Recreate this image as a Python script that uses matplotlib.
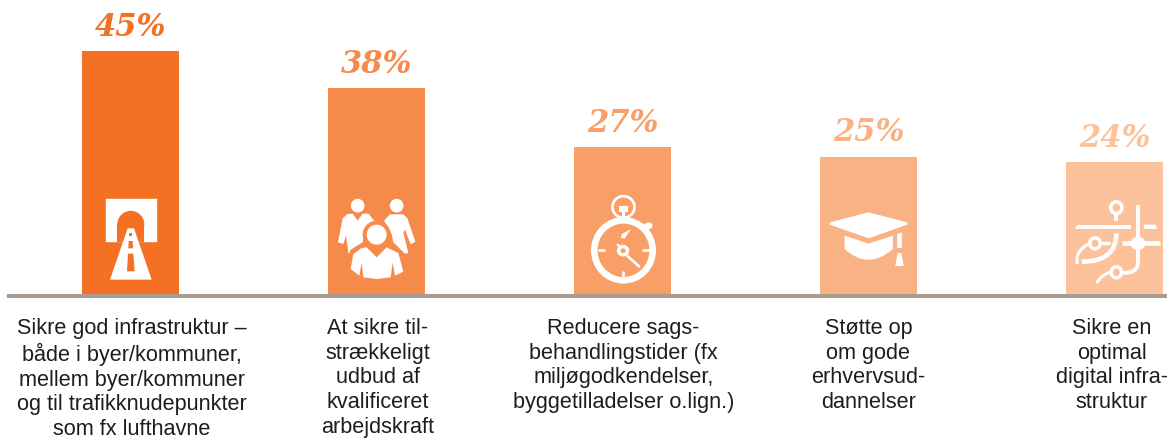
import matplotlib
matplotlib.use("Agg")
import matplotlib.pyplot as plt
from matplotlib.patches import Polygon, Ellipse, Rectangle, PathPatch
from matplotlib.path import Path
from matplotlib.transforms import Affine2D

# Values
bar_heights = [45, 38.2, 27.3, 25.6, 24.6]
percent_labels = ["45%", "38%", "27%", "25%", "24%"]
categories = [
    "Sikre god infrastruktur –\nbåde i byer/kommuner,\nmellem byer/kommuner\nog til trafikknudepunkter\nsom fx lufthavne",
    "At sikre til-\nstrækkeligt\nudbud af\nkvalificeret\narbejdskraft",
    "Reducere sags-\nbehandlingstider (fx\nmiljøgodkendelser,\nbyggetilladelser o.lign.)",
    "Støtte op\nom gode\nerhvervsud-\ndannelser",
    "Sikre en\noptimal\ndigital infra-\nstruktur",
]
bar_colors = ["#f47023", "#f68a4b", "#f89e67", "#f9b283", "#fcc29c"]

W, H = 1167, 439
fig = plt.figure(figsize=(W / 100, H / 100), dpi=100)

# main axes, baseline sits at pixel 297 from the top
base_px = 297
unit_px = 5.44
ax = fig.add_axes([0, (H - base_px) / H, 1, base_px / H])
ax.set_xlim(-130.5 / 246, (W - 130.5) / 246)
ax.set_ylim(0, base_px / unit_px)
xs = range(len(bar_heights))
ax.bar(xs, bar_heights, width=97 / 246, color=bar_colors)
for i in xs:
    ax.annotate(percent_labels[i], (i, bar_heights[i]), xytext=(0, 9.5), textcoords="offset pixels",
                ha="center", va="bottom", color=bar_colors[i], fontsize=22,
                family="DejaVu Serif", weight="bold", style="italic")
ax.set_xticks(list(xs))
ax.set_xticklabels(categories, fontsize=15.6, family="Liberation Sans", color="#1d1d1b",
                   linespacing=1.23, va="top")
ax.tick_params(axis="x", length=0, pad=15)
ax.set_yticks([])
for name in ["top", "left", "right"]:
    ax.spines[name].set_visible(False)
ax.spines["bottom"].set_color("#a99b8f")
ax.spines["bottom"].set_linewidth(2.9)
ax.spines["bottom"].set_capstyle("butt")
ax.spines["bottom"].set_bounds((7 - 130.5) / 246, (W - 130.5) / 246)
# the labels do not sit exactly under their bars
shifts = [1.5, 1, 1, 0, -3]
for lab, dx in zip(ax.get_xticklabels(), shifts):
    lab.set_transform(lab.get_transform() + Affine2D().translate(dx, 0))

# overlay in pixel coordinates for the white icons
ic = fig.add_axes([0, 0, 1, 1])
ic.set_xlim(0, W)
ic.set_ylim(H, 0)
ic.axis("off")
ic.patch.set_alpha(0)


def icon(ox, oy, sx, sy):
    return Affine2D().scale(1 / sx, 1 / sy).translate(ox, oy) + ic.transData


def poly(tr, pts, color="white", ec="none", lw=0):
    ic.add_patch(Polygon(pts, closed=True, fc=color, ec=ec, lw=lw, transform=tr))


def ring(tr, x, y, w, h, thick, s, color="white"):
    ic.add_patch(Ellipse((x, y), w - thick, h - thick, fc="none", ec=color,
                         lw=thick / s * 0.72, transform=tr))


def stroke(tr, pts, codes, thick, s, cap="round"):
    ic.add_patch(PathPatch(Path(pts, codes), fc="none", ec="white", lw=thick / s * 0.72,
                           capstyle=cap, transform=tr))


M, L, C = Path.MOVETO, Path.LINETO, Path.CURVE3

# tunnel
t = icon(60, 180, 3, 3)
ic.add_patch(Rectangle((137, 60), 151, 126, fc="white", ec="white", lw=1, joinstyle="round", transform=t))
c0 = bar_colors[0]
ic.add_patch(Ellipse((212.5, 136), 81, 81, fc=c0, transform=t))
ic.add_patch(Rectangle((172, 136), 81, 52, fc=c0, transform=t))
poly(t, [(203, 148), (222, 148), (275, 302), (150, 302)])
ic.add_patch(Rectangle((207, 162), 10, 10, fc=c0, transform=t))
poly(t, [(206, 186), (218, 186), (219, 208), (205, 208)], c0)
poly(t, [(204, 224), (220, 224), (224, 277), (201, 277)], c0)

# people
c1 = bar_colors[1]
front = [(880, 225), (905, 207), (920, 205), (950, 235), (980, 205), (1015, 222), (1030, 278),
         (1005, 290), (998, 250), (992, 295), (950, 300), (910, 295), (905, 250), (898, 290), (872, 270)]
ic.add_patch(Ellipse((893, 80), 41, 41, fc="white", transform=t))
ic.add_patch(Ellipse((1010, 80), 41, 41, fc="white", transform=t))
poly(t, [(862, 105), (878, 104), (893, 125), (908, 104), (925, 104), (945, 128), (915, 150),
         (908, 190), (872, 212), (866, 226), (858, 170), (850, 195), (834, 190), (848, 118)])
poly(t, [(972, 125), (990, 106), (1030, 106), (1042, 118), (1066, 188), (1052, 196), (1035, 152),
         (1030, 160), (1045, 222), (1035, 224), (1000, 190), (995, 165)])
ic.add_patch(Ellipse((950, 167), 84, 84, fc=c1, transform=t))
poly(t, front, c1, ec=c1, lw=3.5)
poly(t, front)
ic.add_patch(Ellipse((950, 167), 60, 60, fc="white", transform=t))

# stopwatch
s = 2.6
t = icon(560, 180, 2.583, 3)
ring(t, 164, 214, 168, 197, 17, s)
ring(t, 164, 84, 64, 72, 7, s)
ic.add_patch(Rectangle((153, 80), 22, 20, fc="white", transform=t))
ic.add_patch(Rectangle((160, 100), 8, 20, fc="white", transform=t))
ic.add_patch(Ellipse((229, 140), 20, 20, fc="white", transform=t))
stroke(t, [(229, 140), (212, 138)], [M, L], 7, s)
stroke(t, [(100, 214), (113, 214)], [M, L], 7, s)
stroke(t, [(215, 214), (231, 214)], [M, L], 7, s)
stroke(t, [(164, 280), (164, 292)], [M, L], 7, s)
ring(t, 163, 215, 32, 34, 9, s)
stroke(t, [(175, 232), (204, 262)], [M, L], 7, s)
stroke(t, [(149, 197), (155, 203)], [M, L], 6, s)
poly(t, [(183, 150), (160, 165), (157, 176), (167, 179)])

# graduation cap
poly(t, [(697, 130), (797, 100), (897, 130), (897, 137), (797, 178), (697, 137)])
ic.add_patch(PathPatch(Path([(735, 170), (797, 194), (860, 170), (860, 210), (797, 275), (735, 210), (735, 170)],
                            [M, L, L, L, C, C, Path.CLOSEPOLY]), fc="white", ec="none", transform=t))
poly(t, [(871, 165), (883, 160), (883, 207), (871, 207)])
poly(t, [(872, 222), (882, 222), (888, 261), (866, 261)])

# map
ring(t, 1437, 86, 38, 44, 9, s)
stroke(t, [(1437, 105), (1437, 125)], [M, L], 10, s, "butt")
poly(t, [(1336, 137), (1476, 137), (1476, 150), (1330, 150)])
poly(t, [(1508, 137), (1538, 137), (1543, 150), (1508, 150)])
stroke(t, [(1493, 78), (1493, 250), (1493, 282), (1455, 282)], [M, L, C, C], 10, s, "butt")
ic.add_patch(Ellipse((1493, 193), 38, 40, fc="white", transform=t))
stroke(t, [(1452, 193), (1550, 193)], [M, L], 12, s, "butt")
ring(t, 1382, 193, 36, 42, 9, s)
stroke(t, [(1398, 191), (1420, 191)], [M, L], 9, s, "butt")
stroke(t, [(1366, 195), (1330, 215), (1336, 255)], [M, C, C], 8, s, "butt")
stroke(t, [(1437, 163), (1437, 248), (1348, 248)], [M, C, C], 12, s, "butt")
ring(t, 1437, 280, 36, 42, 9, s)
stroke(t, [(1420, 280), (1398, 288), (1386, 312)], [M, C, C], 8, s, "butt")

fig.savefig("out.png", dpi=100)
